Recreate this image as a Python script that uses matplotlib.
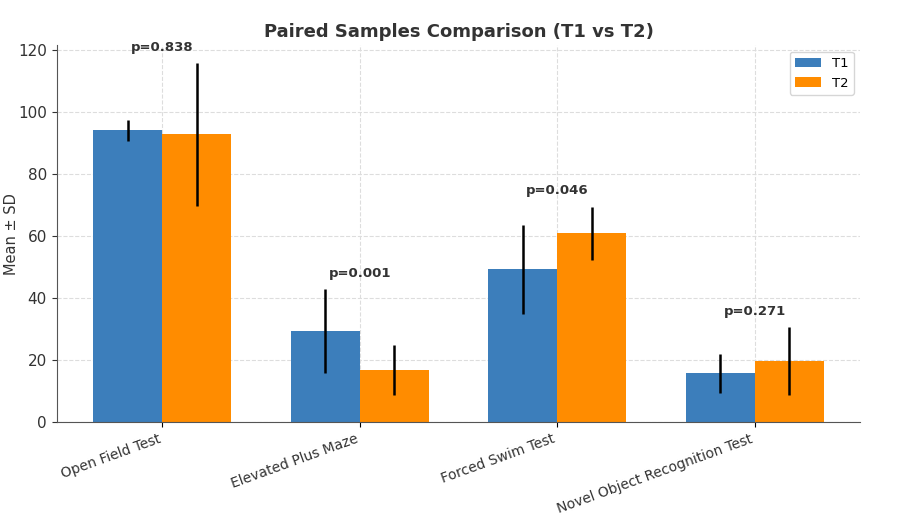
import matplotlib
matplotlib.use("Agg")
import matplotlib.pyplot as plt
import numpy as np

categories = ["Open Field Test", "Elevated Plus Maze", "Forced Swim Test", "Novel Object Recognition Test"]
t1_mean = [94.2, 29.4, 49.4, 15.8]
t1_sd = [3.3, 13.5, 14.4, 6.3]
t2_mean = [92.9, 16.8, 61.0, 19.7]
t2_sd = [23.0, 8.0, 8.6, 11.0]
p_values = ["p=0.838", "p=0.001", "p=0.046", "p=0.271"]

plt.rcParams['font.family'] = ['DejaVu Sans']
fig = plt.figure(figsize=(9, 5.2), dpi=100)
ax = fig.add_axes([0.063, 0.188, 0.893, 0.725])

x = np.arange(len(categories))
w = 0.35
ax.bar(x - w/2, t1_mean, w, yerr=t1_sd, color="#3C7EBB", label="T1",
       error_kw=dict(ecolor="black", elinewidth=1.8, capsize=0), zorder=2)
ax.bar(x + w/2, t2_mean, w, yerr=t2_sd, color="#FF8C00", label="T2",
       error_kw=dict(ecolor="black", elinewidth=1.8, capsize=0), zorder=2)

for i in range(len(categories)):
    top = max(t1_mean[i] + t1_sd[i], t2_mean[i] + t2_sd[i])
    ax.text(x[i], top + 3, p_values[i], ha="center", va="bottom",
            fontsize=9.5, fontweight="bold", color="#333333")

ax.set_xticks(x)
ax.set_xticklabels(categories, rotation=20, ha="right", fontsize=10, color="#333333")
ax.tick_params(axis="y", labelsize=11, colors="#333333")
ax.set_ylabel("Mean ± SD", fontsize=10.5, color="#333333")
ax.yaxis.set_label_coords(-0.047, 0.5)
ax.set_title("Paired Samples Comparison (T1 vs T2)", fontsize=13, fontweight="bold", color="#333333")
ax.grid(True, linestyle="--", color="#dddddd", linewidth=0.8, zorder=0)
ax.set_axisbelow(True)
for s in ["top", "right"]:
    ax.spines[s].set_visible(False)
ax.spines["left"].set_color("#555555")
ax.spines["bottom"].set_color("#555555")
ax.legend(loc="upper right", fontsize=9.5)

fig.savefig("out.png", dpi=100)
